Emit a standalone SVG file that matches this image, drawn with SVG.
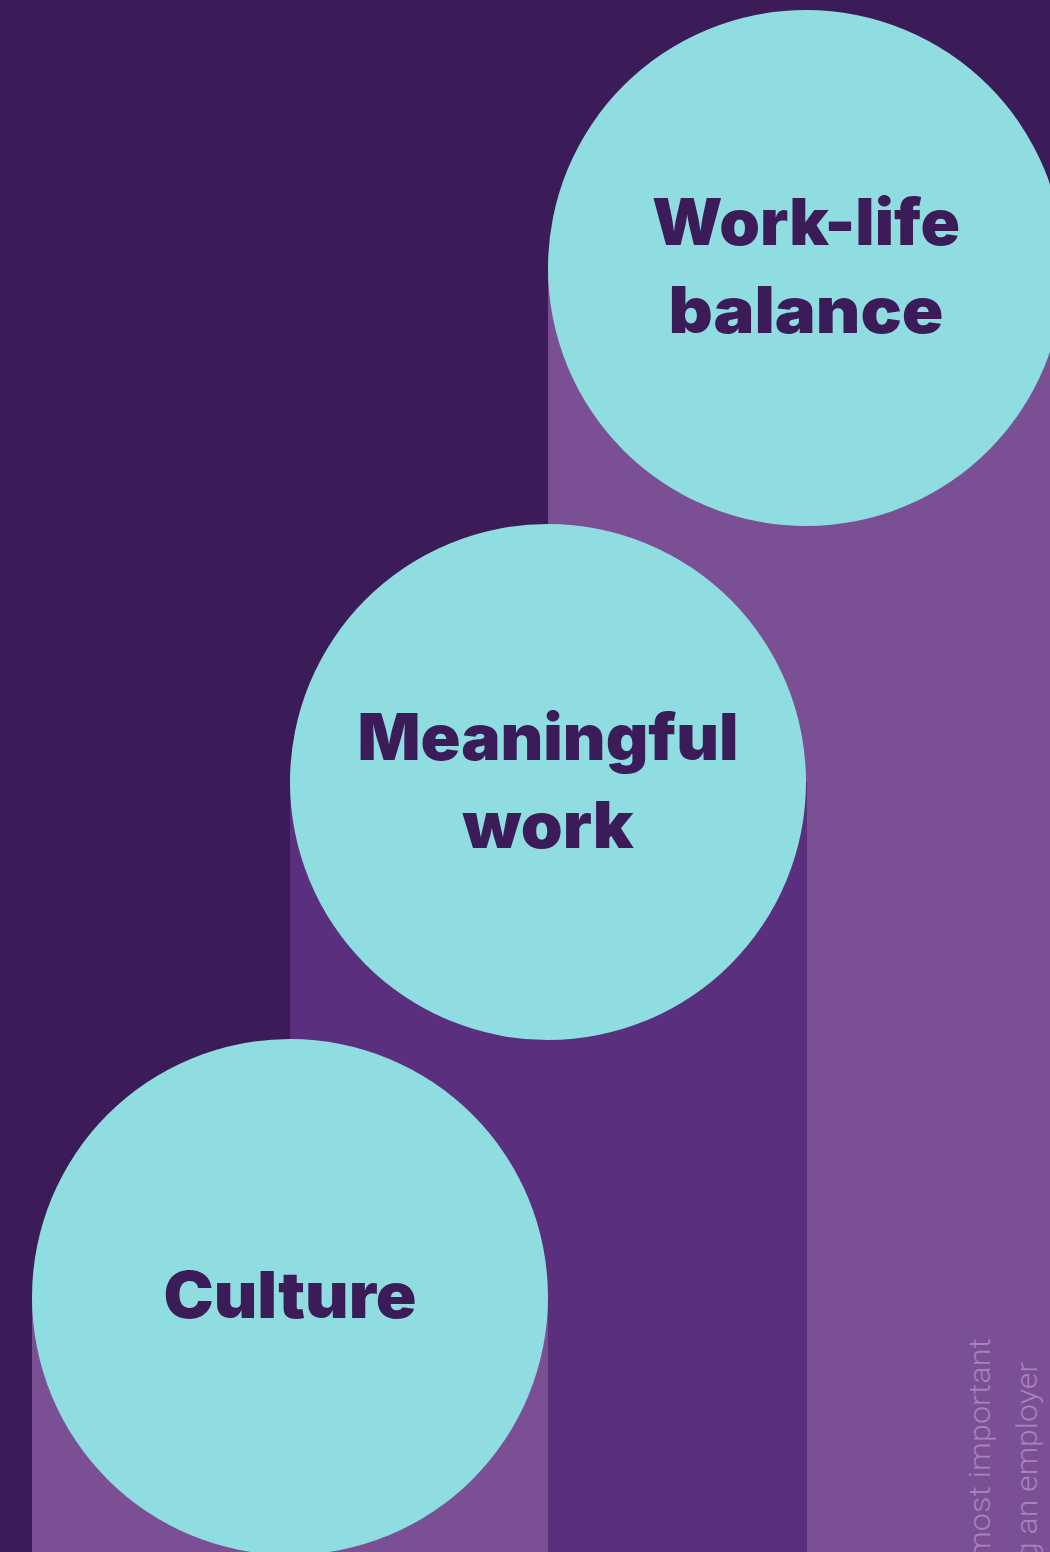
<svg xmlns="http://www.w3.org/2000/svg" width="1050" height="1552" viewBox="0 0 1050 1552">
  <style>
    .disc { fill: #8fdde0; }
    .label { font-family: Inter, "DejaVu Sans", sans-serif; font-weight: 900; font-size: 64px; fill: #3c1b59; text-anchor: middle; }
    .note { font-family: Roboto, "Liberation Sans", sans-serif; font-weight: 300; font-size: 29px; fill: #a783bd; text-anchor: end; }
  </style>
  <!-- backdrop and stepped columns -->
  <rect x="0" y="0" width="1050" height="1552" fill="#3c1b59"/>
  <rect x="548" y="268" width="502" height="1284" fill="#7b4f94"/>
  <rect x="290" y="782" width="517" height="770" fill="#5a307e"/>
  <rect x="32" y="1297" width="516" height="255" fill="#7b4f94"/>

  <g id="work-life-balance">
    <circle class="disc" cx="806" cy="268" r="258"/>
    <text class="label" x="806" y="245" textLength="308" lengthAdjust="spacingAndGlyphs">Work-life</text>
    <text class="label" x="806" y="333" textLength="275" lengthAdjust="spacingAndGlyphs">balance</text>
  </g>

  <g id="meaningful-work">
    <circle class="disc" cx="548" cy="782" r="258"/>
    <text class="label" x="548" y="760" textLength="381" lengthAdjust="spacingAndGlyphs">Meaningful</text>
    <text class="label" x="548" y="848" textLength="171" lengthAdjust="spacingAndGlyphs">work</text>
  </g>

  <g id="culture">
    <circle class="disc" cx="290" cy="1297" r="258"/>
    <text class="label" x="290" y="1318" textLength="253" lengthAdjust="spacingAndGlyphs">Culture</text>
  </g>

  <!-- side caption running upward -->
  <g id="caption">
    <text class="note" transform="translate(990 1338) rotate(-90)" textLength="222" lengthAdjust="spacingAndGlyphs">most important</text>
    <text class="note" transform="translate(1037 1362) rotate(-90)" textLength="198" lengthAdjust="spacingAndGlyphs">g an employer</text>
  </g>
</svg>
